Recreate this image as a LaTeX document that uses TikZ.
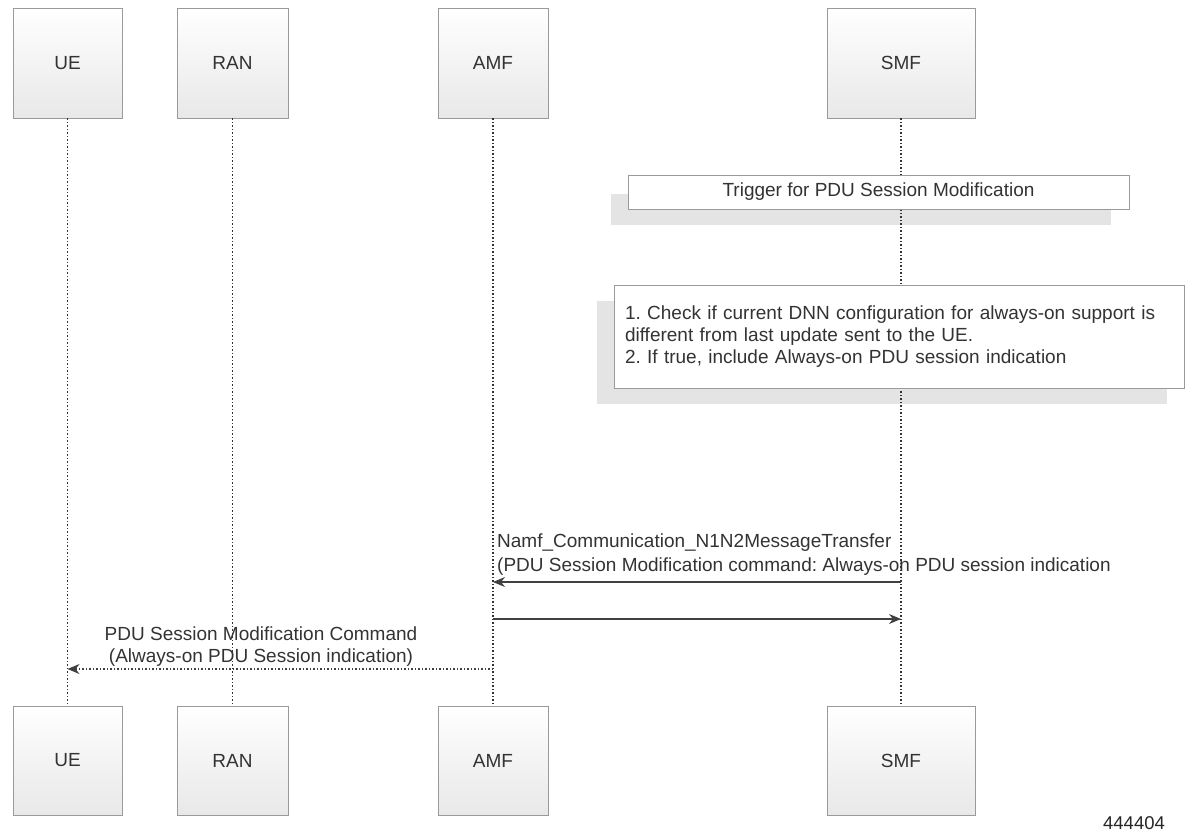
\documentclass[tikz,border=0pt]{standalone}
\usepackage{fontspec}
\setmainfont{Liberation Sans}
\usetikzlibrary{arrows.meta,shadows}
\definecolor{txt}{HTML}{333333}
\definecolor{bord}{HTML}{9A9A9A}
\definecolor{shad}{HTML}{E4E4E4}
\frenchspacing
\begin{document}
\begin{tikzpicture}[x=1pt,y=-1pt,
  fnt/.style={font=\fontsize{19}{22}\selectfont},
  part/.style={draw=bord, line width=0.8pt, top color=white, bottom color=black!9,
    minimum height=110pt, inner sep=0pt, text=txt, fnt,
    drop shadow={shadow xshift=1.2pt, shadow yshift=-1.2pt, fill=black!30, opacity=1}},
  note/.style={draw=bord, fill=white, line width=0.8pt, text=txt, fnt, inner sep=0pt},
  lbl/.style={text=txt, fnt, inner sep=0pt},
  life/.style={line width=1.3pt, dash pattern=on 1.5pt off 2pt, black!80},
  msg/.style={line width=1.1pt, black!75, -{Stealth[length=12pt,width=10pt]}},
  dmsg/.style={msg, line width=1.3pt, dash pattern=on 1.5pt off 2pt}]
\useasboundingbox (0,0) rectangle (1193,831);
% participants (top)
\node[part, minimum width=109pt] (ueT)  at (67.5,63) {UE};
\node[part, minimum width=111pt] (ranT) at (232.5,63) {RAN};
\node[part, minimum width=110pt] (amfT) at (493,63) {AMF};
\node[part, minimum width=148pt] (smfT) at (901,63) {SMF};
% participants (bottom)
\node[part, minimum width=109pt, minimum height=109pt] (ueB)  at (67.5,760.5) {UE};
\node[part, minimum width=111pt, minimum height=109pt] (ranB) at (232.5,760.5) {RAN};
\node[part, minimum width=110pt, minimum height=109pt] (amfB) at (493,760.5) {AMF};
\node[part, minimum width=148pt, minimum height=109pt] (smfB) at (901,760.5) {SMF};
% note shadows
\fill[shad] (611,194) rectangle (1111,225);
\fill[shad] (597,301) rectangle (1167,404);
% lifelines
\draw[life] (ueT) -- (ueB);
\draw[life] (ranT) -- (ranB);
\draw[life] (amfT) -- (amfB);
\draw[life] (smfT) -- (smfB);
% notes
\node[note, minimum width=501pt, minimum height=34pt] (trig) at (878.5,192)
  {Trigger for PDU Session Modification};
\node[note, minimum width=570pt, minimum height=103pt, text width=548pt, align=left] (chk) at (899,337)
  {1. Check if current DNN configuration for always-on support is\\
   different from last update sent to the UE.\\
   2. If true, include Always-on PDU session indication};
% messages
\coordinate (m1s) at (smfT |- 0,582);
\coordinate (m1e) at (amfT |- 0,582);
\coordinate (m2s) at (amfT |- 0,619);
\coordinate (m2e) at (smfT |- 0,619);
\coordinate (m3s) at (amfT |- 0,669);
\coordinate (m3e) at (ueT |- 0,669);
\draw[msg] (m1s) -- (m1e);
\draw[msg] (m2s) -- (m2e);
\draw[dmsg] (m3s) -- (m3e);
\node[lbl, anchor=west] (m1a) at (497,543) {Namf\_Communication\_N1N2MessageTransfer};
\node[lbl, anchor=west] (m1b) at (497,567) {(PDU Session Modification command: Always-on PDU session indication};
\node[lbl, align=center] (m3l) at (261,647) {PDU Session Modification Command\\(Always-on PDU Session indication)};
\node[lbl, font=\fontsize{18.5}{20}\selectfont, text=black!85] (fig) at (1134,823) {444404};
\end{tikzpicture}
\end{document}
